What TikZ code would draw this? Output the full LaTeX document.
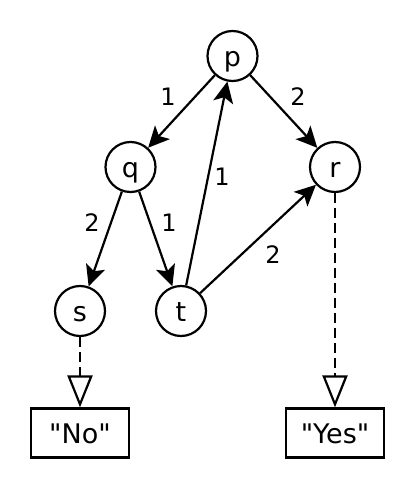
\documentclass[tikz,border=0pt]{standalone}
\usepackage{fontspec}
\setmainfont{DejaVu Sans}[Ligatures=TeXOff]
\usetikzlibrary{arrows.meta}
\newcommand\sq{\char34\relax}
\begin{document}
\begin{tikzpicture}[x=1pt,y=-1pt,
  vert/.style={draw,line width=2.2pt,circle,minimum size=50pt,inner sep=0pt,text height=21pt,text depth=0pt,font=\fontsize{27}{30}\selectfont},
  outbox/.style={draw,line width=2.2pt,rectangle,minimum width=98pt,minimum height=49pt,inner sep=0pt,text height=21pt,text depth=0pt,font=\fontsize{27}{30}\selectfont},
  wlabel/.style={font=\fontsize{24}{28}\selectfont,inner sep=0pt},
  arc/.style={line width=2.2pt,-{Stealth[length=21pt,width=20pt,inset=5pt]}},
  res/.style={line width=2.2pt,dash pattern=on 10pt off 5pt,-{Triangle[open,length=32pt,width=25pt,line width=2.2pt,fill=white]}}]
\useasboundingbox (0,0) rectangle (415,489);
\node[vert] (p) at (232.5,56) {p};
\node[vert] (q) at (130.5,167) {q};
\node[vert] (r) at (335,167) {r};
\node[vert] (s) at (80,311) {s};
\node[vert] (t) at (181,311) {t};
\node[outbox] (no) at (80,433) {\sq No\sq};
\node[outbox] (yes) at (335,433) {\sq Yes\sq};
\draw[arc] (p) -- (q);
\draw[arc] (p) -- (r);
\draw[arc] (q) -- (s);
\draw[arc] (q) -- (t);
\draw[arc] (t) -- (p);
\draw[arc] (t) -- (r);
\draw[res] (s) -- (no);
\draw[res] (r) -- (yes);
\node[wlabel] (l1) at (168,97) {1};
\node[wlabel] (l2) at (298,97) {2};
\node[wlabel] (l3) at (222,177) {1};
\node[wlabel] (l4) at (92,223) {2};
\node[wlabel] (l5) at (169,223) {1};
\node[wlabel] (l6) at (273,255) {2};
\end{tikzpicture}
\end{document}
